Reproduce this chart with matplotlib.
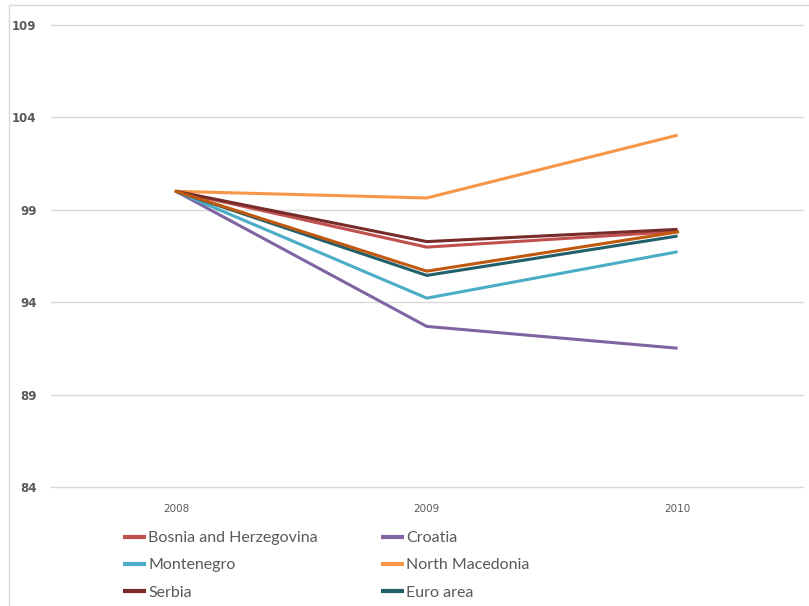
import matplotlib
matplotlib.use("Agg")
import matplotlib.pyplot as plt
from matplotlib.patches import Rectangle

years = ["2008", "2009", "2010"]
bosnia = [100.0, 96.98, 97.83]
croatia = [100.0, 92.69, 91.51]
montenegro = [100.0, 94.22, 96.73]
north_macedonia = [100.0, 99.64, 103.04]
serbia = [100.0, 97.28, 97.94]
euro_area = [100.0, 95.45, 97.58]
extra_series = [100.0, 95.68, 97.80]  # 7th line, legend entry cut off
y_ticks = [84, 89, 94, 99, 104, 109]

series = [
    ("Bosnia and Herzegovina", bosnia, "#C0504D"),
    ("Croatia", croatia, "#8064A2"),
    ("Montenegro", montenegro, "#4BACC6"),
    ("North Macedonia", north_macedonia, "#F79646"),
    ("Serbia", serbia, "#772C2A"),
    ("Euro area", euro_area, "#215F6B"),
]

W, H = 809, 606
fig = plt.figure(figsize=(W / 100, H / 100), dpi=100)
fig.patches.append(Rectangle((9 / W, -0.1), 1.0, 1.1 - 5 / H, transform=fig.transFigure,
                             facecolor="none", edgecolor="#D9D9D9", linewidth=1))

ax = fig.add_axes([50.5 / W, 1 - 487 / H, (803 - 50.5) / W, (487 - 25) / H])
x = list(range(len(years)))
handles = []
for name, vals, col in series:
    h, = ax.plot(x, vals, color=col, linewidth=2.2, label=name, solid_capstyle="butt")
    handles.append(h)
ax.plot(x, extra_series, color="#C0580E", linewidth=2.2, label="_nolegend_")

ax.set_xlim(-0.5, 2.5)
ax.set_ylim(84, 109)
ax.set_yticks(y_ticks)
ax.set_xticks(x)
ax.set_xticklabels(years)
ax.grid(axis="y", color="#D9D9D9", linewidth=1)
for gl in ax.get_ygridlines():
    gl.set_clip_on(False)
ax.set_axisbelow(True)
for s in ax.spines.values():
    s.set_visible(False)
ax.tick_params(axis="both", length=0, colors="#595959")
ax.tick_params(axis="y", pad=10, labelsize=8.5)
ax.tick_params(axis="x", pad=12, labelsize=7.5)
for t in ax.get_yticklabels():
    t.set_fontweight("bold")

# matplotlib fills legend columns first; reorder so entries run across rows
order = [0, 2, 4, 1, 3, 5]
leg = fig.legend([handles[i] for i in order], [series[i][0] for i in order],
                 loc="upper left", bbox_to_anchor=(115 / W, 1 - 523 / H), ncol=2,
                 frameon=False, handlelength=1.45, handletextpad=0.12,
                 columnspacing=3.95, labelspacing=0.82, borderpad=0,
                 prop={"family": ["Lato", "DejaVu Sans"], "size": 11.5})
for t in leg.get_texts():
    t.set_color("#595959")
for l in leg.get_lines():
    l.set_linewidth(3)

fig.savefig("out.png", dpi=100)
